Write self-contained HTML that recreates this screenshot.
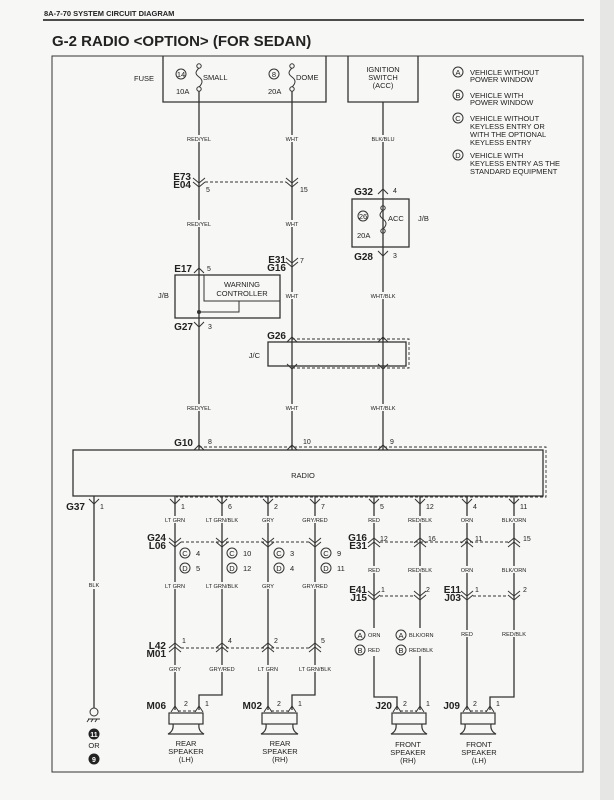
<!DOCTYPE html>
<html><head><meta charset="utf-8"><style>
html,body{margin:0;padding:0;background:#f7f7f5;}
svg{display:block;}
text{font-family:"Liberation Sans",sans-serif;fill:#222;}
.s{font-size:5.6px;}
.m{font-size:7.5px;}
.b{font-size:10px;font-weight:bold;}
.w{stroke:#333;stroke-width:1.3;fill:none;}
.d{stroke:#333;stroke-width:0.9;fill:none;stroke-dasharray:3,2;}
.t{stroke:#333;stroke-width:1;fill:none;}
.bg{fill:#f7f7f5;}
</style></head><body>
<svg width="614" height="800" viewBox="0 0 614 800" xmlns="http://www.w3.org/2000/svg">
<rect x="0" y="0" width="614" height="800" fill="#f7f7f5"/>
<rect x="600" y="0" width="14" height="800" fill="#e6e6e4"/>
<text x="44" y="16" style="font-size:7.5px;font-weight:bold">8A-7-70  SYSTEM CIRCUIT DIAGRAM</text>
<line x1="43" y1="20" x2="584" y2="20" stroke="#333" stroke-width="1.8"/>
<text x="52" y="46" style="font-size:15px;font-weight:bold">G-2  RADIO &lt;OPTION&gt; (FOR SEDAN)</text>
<rect x="52" y="56" width="531" height="716" class="t" stroke-width="1.2"/>

<!-- fuse box -->
<polyline points="163,56 163,102 326,102 326,56" class="w"/>
<polyline points="348,56 348,102 418,102 418,56" class="w"/>
<text x="134" y="81" class="m">FUSE</text>
<circle cx="181" cy="74" r="5" class="t"/><text x="181" y="77" class="m" text-anchor="middle">14</text>
<circle cx="274" cy="74" r="5" class="t"/><text x="274" y="77" class="m" text-anchor="middle">8</text>
<text x="203" y="80" class="m">SMALL</text><text x="296" y="80" class="m">DOME</text>
<text x="176" y="94" class="m">10A</text><text x="268" y="94" class="m">20A</text>
<g class="t">
<circle cx="199" cy="66" r="2.2"/><circle cx="199" cy="89" r="2.2"/>
<path d="M199,68 C195,72 195,74 199,77 C203,80 203,83 199,87"/>
<circle cx="292" cy="66" r="2.2"/><circle cx="292" cy="89" r="2.2"/>
<path d="M292,68 C288,72 288,74 292,77 C296,80 296,83 292,87"/>
</g>
<text x="383" y="72" class="m" text-anchor="middle">IGNITION</text>
<text x="383" y="80" class="m" text-anchor="middle">SWITCH</text>
<text x="383" y="88" class="m" text-anchor="middle">(ACC)</text>
<!-- legend -->
<g class="m">
<circle cx="458" cy="72" r="5" class="t"/><text x="458" y="75" text-anchor="middle" class="m">A</text>
<text x="470" y="75" class="m">VEHICLE WITHOUT</text><text x="470" y="82" class="m">POWER WINDOW</text>
<circle cx="458" cy="95" r="5" class="t"/><text x="458" y="98" text-anchor="middle" class="m">B</text>
<text x="470" y="98" class="m">VEHICLE WITH</text><text x="470" y="105" class="m">POWER WINDOW</text>
<circle cx="458" cy="118" r="5" class="t"/><text x="458" y="121" text-anchor="middle" class="m">C</text>
<text x="470" y="121" class="m">VEHICLE WITHOUT</text><text x="470" y="129" class="m">KEYLESS ENTRY OR</text>
<text x="470" y="137" class="m">WITH THE OPTIONAL</text><text x="470" y="145" class="m">KEYLESS ENTRY</text>
<circle cx="458" cy="155" r="5" class="t"/><text x="458" y="158" text-anchor="middle" class="m">D</text>
<text x="470" y="158" class="m">VEHICLE WITH</text><text x="470" y="166" class="m">KEYLESS ENTRY AS THE</text>
<text x="470" y="174" class="m">STANDARD EQUIPMENT</text>
</g>

<!-- upper wires -->
<line x1="199" y1="91" x2="199" y2="450" class="w"/>
<line x1="292" y1="91" x2="292" y2="450" class="w"/>
<line x1="383" y1="102" x2="383" y2="450" class="w"/>

<!-- E73/E04 -->
<text x="191" y="180" class="b" text-anchor="end">E73</text><text x="191" y="188" class="b" text-anchor="end">E04</text>
<path d="M193,178 L199,183 L205,178 M193,182 L199,187 L205,182" class="t"/>
<path d="M286,178 L292,183 L298,178 M286,182 L292,187 L298,182" class="t"/>
<line x1="205" y1="182" x2="286" y2="182" class="d"/>
<text x="206" y="192" class="s" style="font-size:7px">5</text><text x="300" y="192" class="s" style="font-size:7px">15</text>
<!-- G32 J/B -->
<text x="373" y="195" class="b" text-anchor="end">G32</text>
<path d="M378,194 L383,189 L388,194" class="t"/><text x="393" y="193" style="font-size:7px">4</text>
<rect x="352" y="199" width="57" height="48" class="w"/>
<circle cx="363" cy="216" r="5" class="t"/><text x="363" y="219" class="m" text-anchor="middle">26</text>
<circle cx="383" cy="208" r="2.2" class="t"/><circle cx="383" cy="231" r="2.2" class="t"/>
<path d="M383,210 C379,214 379,216 383,219 C387,222 387,225 383,229" class="t"/>
<text x="388" y="221" class="m">ACC</text><text x="418" y="221" class="m">J/B</text>
<text x="357" y="238" class="m">20A</text>
<text x="373" y="260" class="b" text-anchor="end">G28</text>
<path d="M378,251 L383,256 L388,251" class="t"/><text x="393" y="258" style="font-size:7px">3</text>

<!-- labels with gaps -->
<g class="s" text-anchor="middle">
<rect x="184" y="135" width="30" height="7" class="bg"/><text x="199" y="141" class="s" text-anchor="middle">RED/YEL</text>
<rect x="284" y="135" width="16" height="7" class="bg"/><text x="292" y="141" class="s" text-anchor="middle">WHT</text>
<rect x="370" y="135" width="26" height="7" class="bg"/><text x="383" y="141" class="s" text-anchor="middle">BLK/BLU</text>
<rect x="184" y="220" width="30" height="7" class="bg"/><text x="199" y="226" class="s" text-anchor="middle">RED/YEL</text>
<rect x="284" y="220" width="16" height="7" class="bg"/><text x="292" y="226" class="s" text-anchor="middle">WHT</text>
<rect x="284" y="292" width="16" height="7" class="bg"/><text x="292" y="298" class="s" text-anchor="middle">WHT</text>
<rect x="369" y="292" width="28" height="7" class="bg"/><text x="383" y="298" class="s" text-anchor="middle">WHT/BLK</text>
<rect x="184" y="404" width="30" height="7" class="bg"/><text x="199" y="410" class="s" text-anchor="middle">RED/YEL</text>
<rect x="284" y="404" width="16" height="7" class="bg"/><text x="292" y="410" class="s" text-anchor="middle">WHT</text>
<rect x="369" y="404" width="28" height="7" class="bg"/><text x="383" y="410" class="s" text-anchor="middle">WHT/BLK</text>
</g>

<!-- E31/G16 -->
<text x="286" y="263" class="b" text-anchor="end">E31</text><text x="286" y="271" class="b" text-anchor="end">G16</text>
<path d="M286,258 L292,263 L298,258 M286,262 L292,267 L298,262" class="t"/><text x="300" y="263" style="font-size:7px">7</text>
<!-- E17 warning -->
<text x="192" y="272" class="b" text-anchor="end">E17</text>
<path d="M194,273 L199,268 L204,273" class="t"/><text x="207" y="271" style="font-size:7px">5</text>
<rect x="175" y="275" width="105" height="43" class="w"/>
<polyline points="204,275 204,301 280,301" class="t"/>
<polyline points="199,312 239,312 239,301" class="t"/>
<circle cx="199" cy="312" r="2" fill="#333"/>
<text x="242" y="287" class="m" text-anchor="middle">WARNING</text>
<text x="242" y="296" class="m" text-anchor="middle">CONTROLLER</text>
<text x="158" y="298" class="m">J/B</text>
<text x="193" y="330" class="b" text-anchor="end">G27</text>
<path d="M194,322 L199,327 L204,322" class="t"/><text x="208" y="329" style="font-size:7px">3</text>
<!-- G26 J/C -->
<text x="286" y="339" class="b" text-anchor="end">G26</text>
<rect x="268" y="342" width="138" height="24" class="w"/>
<polyline points="292,339 409,339 409,368 292,368" class="d"/>
<path d="M287,342 L292,337 L297,342 M378,342 L383,337 L388,342" class="t"/>
<path d="M287,364 L292,369 L297,364 M378,364 L383,369 L388,364" class="t"/>
<text x="260" y="358" class="m" text-anchor="end">J/C</text>
<!-- G10 radio -->
<text x="193" y="446" class="b" text-anchor="end">G10</text>
<text x="208" y="444" style="font-size:7px">8</text><text x="303" y="444" style="font-size:7px">10</text><text x="390" y="444" style="font-size:7px">9</text>
<path d="M194,450 L199,445 L204,450 M287,450 L292,445 L297,450 M378,450 L383,445 L388,450" class="t"/>
<polyline points="199,447 546,447 546,497 176,497" class="d"/>
<rect x="73" y="450" width="470" height="46" class="w" stroke-width="1.5"/>
<text x="303" y="478" class="m" text-anchor="middle">RADIO</text>

<!-- lower wires -->
<g class="w">
<line x1="94" y1="496" x2="94" y2="708"/>
<polyline points="175,496 175,710"/>
<polyline points="222,496 222,695 199,695 199,710"/>
<polyline points="268,496 268,710"/>
<polyline points="315,496 315,695 292,695 292,710"/>
<polyline points="374,496 374,697 397,697 397,710"/>
<polyline points="420,496 420,710"/>
<polyline points="467,496 467,710"/>
<polyline points="514,496 514,697 490,697 490,710"/>
</g>
<g class="t">
<path d="M89,499 L94,504 L99,499 M170,499 L175,504 L180,499 M217,499 L222,504 L227,499 M263,499 L268,504 L273,499 M310,499 L315,504 L320,499 M369,499 L374,504 L379,499 M415,499 L420,504 L425,499 M462,499 L467,504 L472,499 M509,499 L514,504 L519,499"/>
</g>
<text x="85" y="510" class="b" text-anchor="end">G37</text>
<g style="font-size:7px">
<text x="100" y="509">1</text><text x="181" y="509">1</text><text x="228" y="509">6</text><text x="274" y="509">2</text><text x="321" y="509">7</text>
<text x="380" y="509">5</text><text x="426" y="509">12</text><text x="473" y="509">4</text><text x="520" y="509">11</text>
</g>
<g>
<rect x="160" y="516" width="30" height="7" class="bg"/><text x="175" y="522" class="s" text-anchor="middle">LT GRN</text>
<rect x="202" y="516" width="40" height="7" class="bg"/><text x="222" y="522" class="s" text-anchor="middle">LT GRN/BLK</text>
<rect x="258" y="516" width="20" height="7" class="bg"/><text x="268" y="522" class="s" text-anchor="middle">GRY</text>
<rect x="299" y="516" width="32" height="7" class="bg"/><text x="315" y="522" class="s" text-anchor="middle">GRY/RED</text>
<rect x="364" y="516" width="20" height="7" class="bg"/><text x="374" y="522" class="s" text-anchor="middle">RED</text>
<rect x="405" y="516" width="30" height="7" class="bg"/><text x="420" y="522" class="s" text-anchor="middle">RED/BLK</text>
<rect x="457" y="516" width="20" height="7" class="bg"/><text x="467" y="522" class="s" text-anchor="middle">ORN</text>
<rect x="499" y="516" width="30" height="7" class="bg"/><text x="514" y="522" class="s" text-anchor="middle">BLK/ORN</text>
<rect x="94" y="583" width="1" height="1" class="bg"/>
<rect x="86" y="581" width="16" height="8" class="bg"/><text x="94" y="587" class="s" text-anchor="middle">BLK</text>
<rect x="364" y="566" width="20" height="7" class="bg"/><text x="374" y="572" class="s" text-anchor="middle">RED</text>
<rect x="405" y="566" width="30" height="7" class="bg"/><text x="420" y="572" class="s" text-anchor="middle">RED/BLK</text>
<rect x="457" y="566" width="20" height="7" class="bg"/><text x="467" y="572" class="s" text-anchor="middle">ORN</text>
<rect x="499" y="566" width="30" height="7" class="bg"/><text x="514" y="572" class="s" text-anchor="middle">BLK/ORN</text>
<rect x="160" y="582" width="30" height="7" class="bg"/><text x="175" y="588" class="s" text-anchor="middle">LT GRN</text>
<rect x="202" y="582" width="40" height="7" class="bg"/><text x="222" y="588" class="s" text-anchor="middle">LT GRN/BLK</text>
<rect x="258" y="582" width="20" height="7" class="bg"/><text x="268" y="588" class="s" text-anchor="middle">GRY</text>
<rect x="299" y="582" width="32" height="7" class="bg"/><text x="315" y="588" class="s" text-anchor="middle">GRY/RED</text>
<rect x="457" y="630" width="20" height="7" class="bg"/><text x="467" y="636" class="s" text-anchor="middle">RED</text>
<rect x="499" y="630" width="30" height="7" class="bg"/><text x="514" y="636" class="s" text-anchor="middle">RED/BLK</text>
<rect x="165" y="665" width="20" height="7" class="bg"/><text x="175" y="671" class="s" text-anchor="middle">GRY</text>
<rect x="206" y="665" width="32" height="7" class="bg"/><text x="222" y="671" class="s" text-anchor="middle">GRY/RED</text>
<rect x="255" y="665" width="26" height="7" class="bg"/><text x="268" y="671" class="s" text-anchor="middle">LT GRN</text>
<rect x="295" y="665" width="40" height="7" class="bg"/><text x="315" y="671" class="s" text-anchor="middle">LT GRN/BLK</text>
</g>

<!-- G24/L06 -->
<text x="166" y="541" class="b" text-anchor="end">G24</text><text x="166" y="549" class="b" text-anchor="end">L06</text>
<g class="t">
<path d="M169,538 L175,543 L181,538 M169,542 L175,547 L181,542"/>
<path d="M216,538 L222,543 L228,538 M216,542 L222,547 L228,542"/>
<path d="M262,538 L268,543 L274,538 M262,542 L268,547 L274,542"/>
<path d="M309,538 L315,543 L321,538 M309,542 L315,547 L321,542"/>
</g>
<line x1="181" y1="542" x2="309" y2="542" class="d"/>
<g class="m">
<circle cx="185" cy="553" r="5" class="t"/><text x="185" y="556" text-anchor="middle" class="m">C</text><text x="196" y="556" class="m">4</text>
<circle cx="185" cy="568" r="5" class="t"/><text x="185" y="571" text-anchor="middle" class="m">D</text><text x="196" y="571" class="m">5</text>
<circle cx="232" cy="553" r="5" class="t"/><text x="232" y="556" text-anchor="middle" class="m">C</text><text x="243" y="556" class="m">10</text>
<circle cx="232" cy="568" r="5" class="t"/><text x="232" y="571" text-anchor="middle" class="m">D</text><text x="243" y="571" class="m">12</text>
<circle cx="279" cy="553" r="5" class="t"/><text x="279" y="556" text-anchor="middle" class="m">C</text><text x="290" y="556" class="m">3</text>
<circle cx="279" cy="568" r="5" class="t"/><text x="279" y="571" text-anchor="middle" class="m">D</text><text x="290" y="571" class="m">4</text>
<circle cx="326" cy="553" r="5" class="t"/><text x="326" y="556" text-anchor="middle" class="m">C</text><text x="337" y="556" class="m">9</text>
<circle cx="326" cy="568" r="5" class="t"/><text x="326" y="571" text-anchor="middle" class="m">D</text><text x="337" y="571" class="m">11</text>
</g>
<!-- G16/E31 -->
<text x="367" y="541" class="b" text-anchor="end">G16</text><text x="367" y="549" class="b" text-anchor="end">E31</text>
<g class="t">
<path d="M368,543 L374,538 L380,543 M368,547 L374,542 L380,547"/>
<path d="M414,543 L420,538 L426,543 M414,547 L420,542 L426,547"/>
<path d="M461,543 L467,538 L473,543 M461,547 L467,542 L473,547"/>
<path d="M508,543 L514,538 L520,543 M508,547 L514,542 L520,547"/>
</g>
<line x1="380" y1="542" x2="508" y2="542" class="d"/>
<g style="font-size:7px"><text x="380" y="541">12</text><text x="428" y="541">16</text><text x="475" y="541">11</text><text x="523" y="541">15</text></g>
<!-- E41/J15 E11/J03 -->
<text x="367" y="593" class="b" text-anchor="end">E41</text><text x="367" y="601" class="b" text-anchor="end">J15</text>
<text x="461" y="593" class="b" text-anchor="end">E11</text><text x="461" y="601" class="b" text-anchor="end">J03</text>
<g class="t">
<path d="M368,591 L374,596 L380,591 M368,595 L374,600 L380,595"/>
<path d="M414,591 L420,596 L426,591 M414,595 L420,600 L426,595"/>
<path d="M461,591 L467,596 L473,591 M461,595 L467,600 L473,595"/>
<path d="M508,591 L514,596 L520,591 M508,595 L514,600 L520,595"/>
</g>
<line x1="380" y1="596" x2="414" y2="596" class="d"/><line x1="473" y1="596" x2="508" y2="596" class="d"/>
<g style="font-size:7px"><text x="381" y="592">1</text><text x="426" y="592">2</text><text x="475" y="592">1</text><text x="523" y="592">2</text></g>
<!-- A/B -->
<rect x="355" y="628" width="40" height="28" class="bg"/>
<rect x="396" y="628" width="44" height="28" class="bg"/>
<circle cx="360" cy="635" r="5" class="t"/><text x="360" y="638" class="m" text-anchor="middle">A</text><text x="368" y="637" class="s">ORN</text>
<circle cx="360" cy="650" r="5" class="t"/><text x="360" y="653" class="m" text-anchor="middle">B</text><text x="368" y="652" class="s">RED</text>
<circle cx="401" cy="635" r="5" class="t"/><text x="401" y="638" class="m" text-anchor="middle">A</text><text x="409" y="637" class="s">BLK/ORN</text>
<circle cx="401" cy="650" r="5" class="t"/><text x="401" y="653" class="m" text-anchor="middle">B</text><text x="409" y="652" class="s">RED/BLK</text>
<!-- L42/M01 -->
<text x="166" y="649" class="b" text-anchor="end">L42</text><text x="166" y="657" class="b" text-anchor="end">M01</text>
<g class="t">
<path d="M169,648 L175,643 L181,648 M169,652 L175,647 L181,652"/>
<path d="M216,648 L222,643 L228,648 M216,652 L222,647 L228,652"/>
<path d="M262,648 L268,643 L274,648 M262,652 L268,647 L274,652"/>
<path d="M309,648 L315,643 L321,648 M309,652 L315,647 L321,652"/>
</g>
<line x1="181" y1="648" x2="309" y2="648" class="d"/>
<g style="font-size:7px"><text x="182" y="643">1</text><text x="228" y="643">4</text><text x="274" y="643">2</text><text x="321" y="643">5</text></g>

<!-- speakers -->
<g>
<text x="166" y="709" class="b" text-anchor="end">M06</text>
<text x="262" y="709" class="b" text-anchor="end">M02</text>
<text x="392" y="709" class="b" text-anchor="end">J20</text>
<text x="460" y="709" class="b" text-anchor="end">J09</text>
</g>
<g class="t">
<path d="M171,712 L175,706 L179,712 M195,712 L199,706 L203,712"/>
<path d="M264,712 L268,706 L272,712 M288,712 L292,706 L296,712"/>
<path d="M393,712 L397,706 L401,712 M416,712 L420,706 L424,712"/>
<path d="M463,712 L467,706 L471,712 M486,712 L490,706 L494,712"/>
</g>
<g class="d"><line x1="178" y1="711" x2="196" y2="711"/><line x1="271" y1="711" x2="289" y2="711"/><line x1="400" y1="711" x2="417" y2="711"/><line x1="470" y1="711" x2="487" y2="711"/></g>
<g style="font-size:7px"><text x="184" y="706">2</text><text x="205" y="706">1</text><text x="277" y="706">2</text><text x="298" y="706">1</text><text x="403" y="706">2</text><text x="426" y="706">1</text><text x="473" y="706">2</text><text x="496" y="706">1</text></g>
<g stroke="#333" stroke-width="1.2" fill="none">
<rect x="169" y="713" width="34" height="11"/><path d="M173,724 Q174,731 168,734 L204,734 Q198,731 199,724"/>
<rect x="262" y="713" width="35" height="11"/><path d="M266,724 Q267,731 261,734 L298,734 Q292,731 293,724"/>
<rect x="392" y="713" width="34" height="11"/><path d="M396,724 Q397,731 391,734 L427,734 Q421,731 422,724"/>
<rect x="461" y="713" width="34" height="11"/><path d="M465,724 Q466,731 460,734 L496,734 Q490,731 491,724"/>
</g>
<g class="m" text-anchor="middle">
<text x="186" y="746" class="m" text-anchor="middle">REAR</text><text x="186" y="754" class="m" text-anchor="middle">SPEAKER</text><text x="186" y="762" class="m" text-anchor="middle">(LH)</text>
<text x="280" y="746" class="m" text-anchor="middle">REAR</text><text x="280" y="754" class="m" text-anchor="middle">SPEAKER</text><text x="280" y="762" class="m" text-anchor="middle">(RH)</text>
<text x="408" y="747" class="m" text-anchor="middle">FRONT</text><text x="408" y="755" class="m" text-anchor="middle">SPEAKER</text><text x="408" y="763" class="m" text-anchor="middle">(RH)</text>
<text x="479" y="747" class="m" text-anchor="middle">FRONT</text><text x="479" y="755" class="m" text-anchor="middle">SPEAKER</text><text x="479" y="763" class="m" text-anchor="middle">(LH)</text>
</g>
<!-- ground -->
<circle cx="94" cy="712" r="4" class="t" stroke-width="1.2"/>
<path d="M88,719 L100,719 M89,719 L87,722 M93,719 L91,722 M97,719 L95,722" class="t"/>
<circle cx="94" cy="734" r="5.5" fill="#222"/><text x="94" y="737" text-anchor="middle" style="font-size:7px;font-weight:bold;fill:#fff">11</text>
<text x="94" y="748" class="m" text-anchor="middle">OR</text>
<circle cx="94" cy="759" r="5.5" fill="#222"/><text x="94" y="762" text-anchor="middle" style="font-size:7px;font-weight:bold;fill:#fff">9</text>
</svg>
</body></html>
